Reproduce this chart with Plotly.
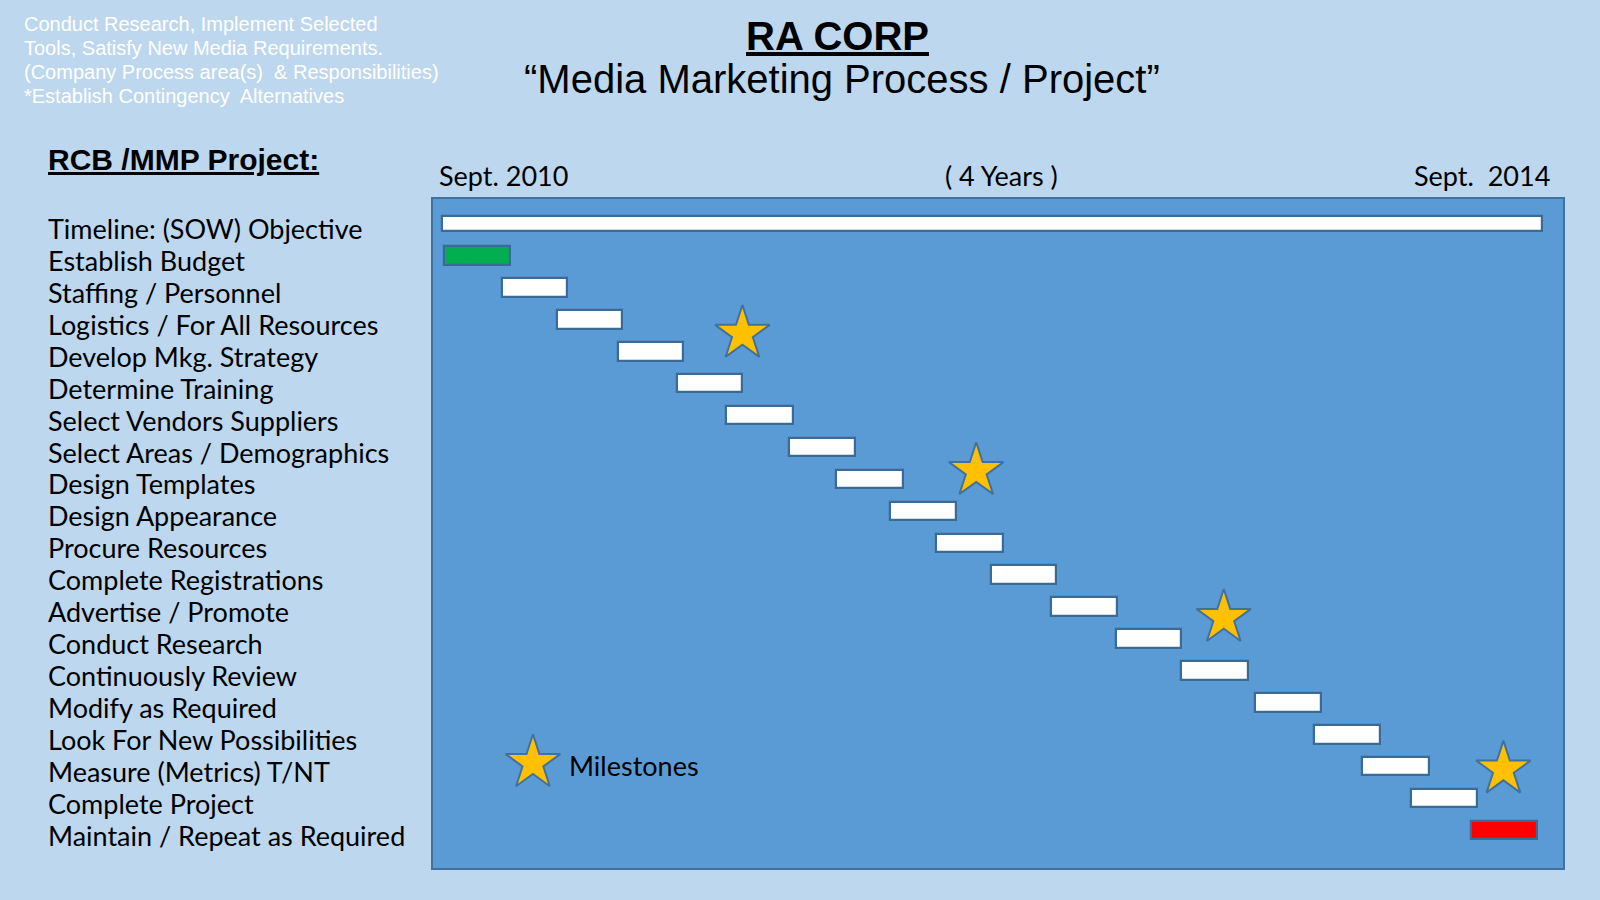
import plotly.graph_objects as go

# ---------------- data ----------------
tasks = [
    "Timeline: (SOW) Objective", "Establish Budget", "Staffing / Personnel",
    "Logistics / For All Resources", "Develop Mkg. Strategy", "Determine Training",
    "Select Vendors Suppliers", "Select Areas / Demographics", "Design Templates",
    "Design Appearance", "Procure Resources", "Complete Registrations",
    "Advertise / Promote", "Conduct Research", "Continuously Review",
    "Modify as Required", "Look For New Possibilities", "Measure (Metrics) T/NT",
    "Complete Project", "Maintain / Repeat as Required",
]
# start / end in months after Sept. 2010
task_start = [0.0, 0.1, 2.6, 5.0, 7.65, 10.25, 12.4, 15.15, 17.2, 19.55,
              21.55, 23.95, 26.55, 29.4, 32.25, 35.45, 38.05, 40.15, 42.25, 44.9]
task_end = [48.0, 2.95, 5.45, 7.85, 10.5, 13.1, 15.3, 18.0, 20.1, 22.4,
            24.45, 26.8, 29.45, 32.25, 35.15, 38.35, 40.9, 43.05, 45.15, 47.75]
task_colors = ["#FFFFFF", "#00B050"] + ["#FFFFFF"] * 17 + ["#FF0000"]

milestone_month = [13.1, 23.3, 34.1, 46.3]
milestone_row = [3.45, 7.75, 12.35, 17.1]

period_labels = ["Sept. 2010", "( 4 Years )", "Sept.  2014"]

notes = ["Conduct Research, Implement Selected",
         "Tools, Satisfy New Media Requirements.",
         "(Company Process area(s)  & Responsibilities)",
         "*Establish Contingency  Alternatives"]

# ---------------- geometry helpers ----------------
S = 1600 / 1568.0
L, R, T, B = 433, 1563, 199, 868


def px(x):
    return (x * S - L) / (R - L)


def py(y):
    return (B - y * S) / (B - T)


rows = list(range(len(tasks)))
durations = [e - s for s, e in zip(task_start, task_end)]
widths = [0.48] + [0.58] * (len(tasks) - 1)

star_marker = dict(symbol="star", size=41, color="#FFC000",
                   line=dict(color="#41719C", width=2))

fig = go.Figure()
fig.add_trace(go.Bar(
    y=rows, x=durations, base=task_start, orientation="h",
    width=widths,
    marker=dict(color=task_colors, line=dict(color="#3A6A96", width=2.2)),
    hoverinfo="skip", showlegend=False,
))
fig.add_trace(go.Scatter(
    x=milestone_month, y=milestone_row, mode="markers",
    marker=star_marker, hoverinfo="skip", showlegend=False,
))
# legend star
fig.add_trace(go.Scatter(
    x=[3.96], y=[16.9], mode="markers",
    marker=star_marker, hoverinfo="skip", showlegend=False,
))

ann = []
label_font = dict(family="Lato, Carlito, sans-serif", size=27, color="#000000")
for i, t in enumerate(tasks):
    ann.append(dict(xref="paper", yref="y", x=px(45), y=i, text=t,
                    xanchor="left", yanchor="middle", showarrow=False,
                    yshift=-5, font=label_font))

ann.append(dict(xref="x", yref="y", x=5.45, y=16.97, text="Milestones",
                xanchor="left", yanchor="middle", showarrow=False,
                font=label_font))

# period labels above the panel
ann.append(dict(xref="paper", yref="paper", x=px(428), y=py(172), text=period_labels[0],
                xanchor="left", yanchor="middle", showarrow=False, font=label_font))
ann.append(dict(xref="paper", yref="paper", x=px(981), y=py(172), text=period_labels[1],
                xanchor="center", yanchor="middle", showarrow=False, font=label_font))
ann.append(dict(xref="paper", yref="paper", x=px(1521), y=py(172), text=period_labels[2],
                xanchor="right", yanchor="middle", showarrow=False, font=label_font))

# section heading
ann.append(dict(xref="paper", yref="paper", x=px(45), y=py(156),
                text="<b><u>RCB /MMP Project:</u></b>",
                xanchor="left", yanchor="middle", showarrow=False,
                font=dict(family="Liberation Sans, Arial", size=30, color="#000000")))

# titles
ann.append(dict(xref="paper", yref="paper", x=px(821), y=py(35),
                text="<b><u>RA CORP</u></b>",
                xanchor="center", yanchor="middle", showarrow=False,
                font=dict(family="Liberation Sans, Arial", size=40, color="#000000")))
ann.append(dict(xref="paper", yref="paper", x=px(825), y=py(77),
                text="\u201cMedia Marketing Process / Project\u201d",
                xanchor="center", yanchor="middle", showarrow=False,
                font=dict(family="Liberation Sans, Arial", size=40, color="#000000")))

# notes in top-left
for i, n in enumerate(notes):
    ann.append(dict(xref="paper", yref="paper", x=px(22), y=py(24 + i * 23.5),
                    text=n, xanchor="left", yanchor="middle", showarrow=False,
                    font=dict(family="Liberation Sans, Arial", size=20, color="#FFFFFF")))

fig.update_layout(
    width=1600, height=900,
    margin=dict(l=L, r=1600 - R, t=T, b=900 - B),
    paper_bgcolor="#BDD7EE", plot_bgcolor="#5B9BD5",
    annotations=ann, bargap=0, showlegend=False,
    xaxis=dict(range=[-0.4, 48.9], showgrid=False, zeroline=False,
               showticklabels=False, ticks="", showline=True, mirror=True,
               linecolor="#41719C", linewidth=2, fixedrange=True),
    yaxis=dict(range=[20.19, -0.77], showgrid=False, zeroline=False,
               showticklabels=False, ticks="", showline=True, mirror=True,
               linecolor="#41719C", linewidth=2, fixedrange=True),
)

fig.write_html(
    "out.html",
    config={"displayModeBar": False},
    post_script="document.body.style.margin='0';document.body.style.overflow='hidden';"
                "document.body.style.background='#BDD7EE';",
)
